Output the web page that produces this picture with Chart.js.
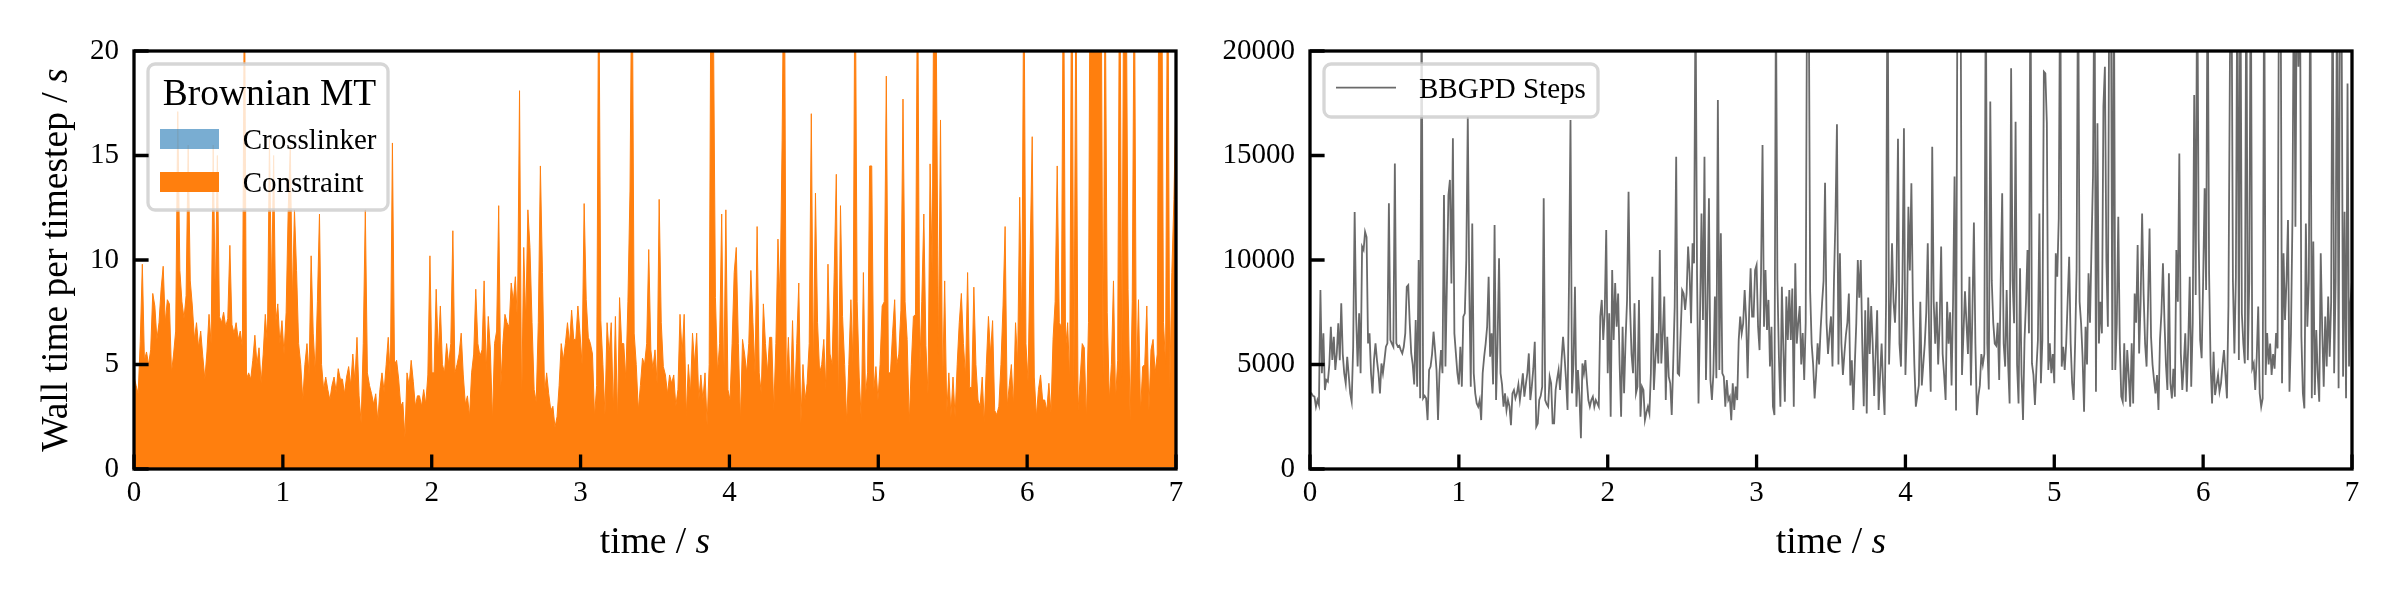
<!DOCTYPE html>
<html><head><meta charset="utf-8">
<script src="https://cdn.jsdelivr.net/npm/chart.js@4/dist/chart.umd.min.js"></script>
<style>
html,body{margin:0;padding:0;background:#fff;}
#wrap{position:relative;width:2400px;height:600px;background:#fff;}
.panel{position:absolute;top:0;width:1200px;height:600px;}
</style></head><body>
<div id="wrap">
<div class="panel" style="left:0"><canvas id="c1" width="1200" height="600"></canvas></div>
<div class="panel" style="left:1200px"><canvas id="c2" width="1200" height="600"></canvas></div>
</div>
<script>
// ---------------- data ----------------
const timeStepLeft = 0.014;   // s between samples (left panel)
const timeStepRight = 0.01;   // s between samples (right panel)
const crosslinkerStep = 0.5;  // s between crosslinker samples

const constraintTime = [
4.4,4.0,3.6,6.1,9.8,5.2,5.6,5.0,5.7,8.4,
7.8,6.2,7.0,8.6,9.7,7.0,8.1,7.9,4.6,5.5,
6.6,17.1,9.5,8.0,7.2,8.3,15.5,9.0,7.8,6.2,
7.0,5.8,6.6,5.4,4.3,5.6,7.4,6.0,15.5,8.0,
15.0,7.3,7.0,7.5,6.8,7.2,10.7,6.9,6.5,7.0,
6.2,6.6,5.8,24,4.3,4.6,4.3,5.2,6.4,5.0,
5.8,4.1,5.5,7.4,6.0,15.8,8.5,15.0,7.0,7.9,
6.0,7.1,5.5,7.5,12.4,15.5,8.0,12.4,9.5,6.0,
5.0,3.3,5.0,6.0,4.5,10.2,6.5,4.6,8.0,12.2,
5.0,3.8,4.4,3.8,3.3,4.0,4.4,3.7,4.8,4.3,
4.3,3.6,4.4,4.9,4.0,5.5,4.2,6.3,3.5,2.2,
6.0,12.4,4.6,4.0,3.6,3.1,3.6,2.3,3.8,4.6,
3.7,5.0,6.3,4.3,15.6,5.0,5.2,4.3,3.0,3.2,
1.5,4.6,4.0,5.2,4.2,3.0,3.5,3.5,3.0,3.8,
3.1,4.5,10.2,4.6,4.6,8.6,5.5,7.8,5.0,4.6,
6.0,5.0,6.0,11.4,4.6,5.0,5.5,6.5,4.5,3.1,
3.5,2.5,4.6,5.5,8.6,6.0,5.4,5.7,9.0,4.7,
7.3,5.7,2.3,6.0,6.6,12.6,3.9,6.0,7.4,7.0,
6.8,8.9,8.0,9.2,7.0,18.1,2.7,10.6,7.0,12.4,
10.6,7.0,3.8,3.2,7.0,14.5,9.4,3.6,4.6,3.6,
2.8,3.0,2.0,2.5,4.0,6.0,5.2,6.0,7.0,6.0,
7.6,6.2,6.2,7.8,6.5,5.0,12.7,8.1,6.3,6.0,
5.5,2.5,4.0,25,7.1,5.0,2.6,7.0,5.5,7.0,
2.7,7.3,2.3,8.2,6.0,6.0,4.3,8.0,13.3,26,
6.5,5.0,2.8,4.0,5.3,5.0,6.0,10.5,5.7,4.8,
5.7,4.1,12.9,7.0,4.9,4.5,3.6,4.5,4.1,4.5,
3.0,3.8,7.4,5.5,7.4,2.5,5.0,3.6,6.5,5.0,
6.5,3.3,4.5,3.3,4.6,2.1,5.0,28,22,8.2,
4.6,6.0,12.2,3.8,12.4,3.8,3.3,6.0,9.4,10.6,
6.0,2.3,6.2,5.5,4.6,6.0,9.5,7.0,4.6,11.6,
4.6,3.6,7.9,6.0,4.6,6.3,6.3,2.8,6.0,11.0,
8.0,15.7,27,3.8,6.3,3.3,7.1,3.3,6.0,8.9,
2.2,5.0,3.3,4.1,6.0,17.0,4.6,13.2,7.0,4.6,
5.0,6.2,3.8,9.8,5.5,5.0,9.4,14.1,3.0,12.6,
7.3,5.0,2.2,5.0,8.1,5.1,26,8.0,4.4,2.3,
9.4,3.5,4.6,14.5,14.5,3.8,4.9,3.3,5.0,7.8,
8.0,18.8,4.6,4.6,6.5,8.1,5.0,5.5,7.6,17.7,
8.0,6.2,2.2,5.0,7.3,7.4,25,4.6,8.0,12.2,
5.9,3.6,14.6,9.4,28,20.5,5.5,16.7,3.8,9.0,
2.7,4.6,2.5,4.4,2.5,5.0,7.0,8.4,6.0,4.4,
9.4,3.9,3.9,8.7,5.0,3.3,3.0,4.4,2.2,5.0,
7.3,5.5,7.1,2.8,2.6,3.0,5.0,7.8,11.6,3.0,
4.0,5.0,3.0,7.0,5.0,13.0,6.5,25,6.0,4.2,
10.3,15.9,4.4,2.5,3.8,4.5,3.3,3.3,2.8,4.1,
2.7,6.2,8.0,14.5,7.0,6.8,26,5.7,7.0,4.2,
27,3.8,24,2.8,4.3,6.0,5.8,2.3,7.0,30,
35,28,40,32,26,4.4,24,7.5,3.3,5.0,
9.0,3.3,5.2,27,4.4,26,26,8.6,2.3,8.0,
25,4.1,8.1,2.7,4.9,5.0,7.8,2.8,5.7,6.2,
4.6,5.5,30,28,7.0,5.0,27,3.8,9.4,12.9,
18
];

const crosslinkerTime = [0.06,0.05,0.05,0.04,0.05,0.04,0.05,0.05,0.06,0.05,0.05,0.06,0.07,0.07,0.08];

const bbgpdSteps = [
3600,3620,3500,3460,2980,3300,3060,8560,4580,6490,
3780,4260,4180,5000,6810,5220,6330,4740,5530,6970,
5210,7930,5500,4580,4100,5370,4500,3620,3220,5850,
12300,7290,4900,7450,4580,10640,10480,11350,11100,6010,
6490,4580,3620,5220,6010,5200,4580,3620,5050,4580,
5200,5850,6010,12710,6170,6000,5850,14620,6010,5850,
5900,5690,5530,5850,6490,8720,8800,6970,5530,5000,
4050,7130,3940,10000,3380,23000,3380,3500,3380,2340,
4740,4900,5500,6570,5690,4740,2340,4580,5690,4580,
13110,4900,9000,13110,13830,8880,15820,6490,5530,4580,
4050,5850,3940,7290,7450,10000,16860,8720,3940,11750,
4580,3620,3140,2980,3300,2340,4580,5370,6000,6810,
9200,5370,6490,4050,11680,3300,6000,10080,4580,4050,
2980,3620,2820,3300,3000,2100,3620,3780,3380,3620,
4050,3300,3900,4580,3460,4050,4580,5530,3300,3940,
4800,6090,2030,2180,3300,3500,3940,12950,3300,3100,
2980,4420,4100,2180,2180,3780,4300,4740,3780,5220,
6330,5370,4260,2820,9000,16700,3620,5050,8720,2980,
4740,3500,1470,5050,4580,5210,4200,3300,2980,3300,
3460,2980,3300,3140,2980,7290,8090,6170,7500,11440,
4580,7450,2500,9520,6170,8900,6810,8400,5000,2500,
6810,3620,6170,8090,13270,7770,5500,4580,7930,3620,
3940,8090,2500,3940,3780,2340,2700,2980,2660,4580,
9200,3780,5220,6490,5050,10480,5050,6490,8250,3300,
6330,4420,4100,2580,5050,7770,14940,4580,4500,6490,
8560,8400,7610,8400,10640,9360,6970,10800,9840,23000,
9360,3140,7290,12230,7130,14940,4260,7770,12950,4260,
3300,4580,8250,4340,17650,4740,11280,4580,4420,2980,
4260,3300,3460,2340,4100,2820,3940,3300,6170,7290,
6490,6970,8560,7130,4340,7450,9600,7290,7290,9520,
9760,6810,5690,9360,15500,6810,9520,6650,8090,4900,
6810,2980,2580,23000,9040,5370,2980,8720,5690,3220,
8250,6170,8560,6170,8640,2980,9840,6000,7000,7800,
5000,6500,4260,7000,25000,24000,8480,6000,5000,3380,
4500,6010,5000,6650,7930,9000,13700,7000,5500,6500,
7300,4900,9000,12000,16500,5000,10320,6000,4500,5500,
6400,7000,8400,4000,5200,2820,5000,7000,10000,8200,
10000,6000,3000,7600,2660,8200,5500,7800,6000,3500,
5500,7600,2820,4500,6000,4000,2580,8000,26000,5000,
7500,10800,8000,7000,9000,15800,6000,4900,9000,16300,
4500,7000,12550,9500,13670,8000,5000,2980,3500,4000,
8000,4000,5000,6000,7500,10800,6000,3700,15420,8000,
6000,8000,5000,7000,10640,5500,4500,3300,8000,6000,
7500,4000,8000,14000,2800,25000,24000,25000,4500,6500,
8500,7000,5500,9200,4000,7500,11790,6000,2580,3500,
4000,5500,5000,5500,24000,6000,3800,17580,9000,7000,
6000,5900,7000,4260,9000,13190,6000,4900,8560,5000,
3140,19170,9000,6970,16620,5000,3140,9600,4500,2340,
6170,8000,10480,6490,25000,5050,4500,3060,4800,6170,
12230,4100,6170,19010,18930,16540,4740,6010,4580,5500,
4100,10320,9200,12000,25000,4900,5850,4740,6000,8090,
10160,6000,4100,3300,6000,9520,25000,8000,6970,5370,
2740,6810,5000,9360,7000,10640,14000,25000,3700,16540,
6010,8000,6490,17340,19250,10000,6810,25000,25000,4740,
25000,4740,7000,12070,6000,3460,3220,6010,3220,5690,
4500,2980,6010,3140,8400,7000,10720,5530,8000,12230,
8400,6000,4900,8000,11510,6330,5000,4260,3620,4500,
2820,6170,7500,9840,7130,5000,3780,9360,4100,3380,
4800,3460,10480,8000,15100,5530,3780,5000,6490,3700,
6000,9200,3940,7000,17890,8330,25000,11000,6170,5300,
9000,13430,8560,25000,9360,5000,3140,5610,3540,4020,
4500,3700,4100,5000,5690,4500,3380,7850,19570,25000,
9000,5530,9200,25000,5210,25000,7450,6000,5050,25000,
5210,9000,25000,4820,5050,3780,5370,7770,3620,2980,
3380,25000,4500,6500,5000,6000,4500,5500,4800,6500,
5770,25000,25000,4100,10320,7130,9000,11910,3700,6490,
12000,25000,11590,25000,19250,25000,6330,3620,2900,11750,
6810,9000,25000,3380,10880,3540,6650,4500,3220,10320,
6650,3940,7290,4900,8250,5370,8000,25000,4580,9000,
25000,3860,25000,22000,4420,12310,3380,18450,4900,8000,
9000
];

const xTicks = [0, 1, 2, 3, 4, 5, 6, 7];
const yTicksLeft = [0, 5, 10, 15, 20];
const yTicksRight = [0, 5000, 10000, 15000, 20000];
const seriesLabels = ['Crosslinker', 'Constraint', 'BBGPD Steps'];
const legendTitleLeft = 'Brownian MT';
const xTitleParts = [{text: 'time / '}, {text: 's', italic: true}];
const yTitleLeftParts = [{text: 'Wall time per timestep / '}, {text: 's', italic: true}];

// ---------------- helpers ----------------
const SERIF = "'Liberation Serif', 'Times New Roman', serif";
Chart.defaults.font.family = SERIF;
Chart.defaults.color = '#000';

function toPoints(values, step) { return values.map((v, i) => ({x: i * step, y: v})); }

function roundRect(ctx, x, y, w, h, r) {
  ctx.beginPath();
  ctx.moveTo(x + r, y);
  ctx.arcTo(x + w, y, x + w, y + h, r);
  ctx.arcTo(x + w, y + h, x, y + h, r);
  ctx.arcTo(x, y + h, x, y, r);
  ctx.arcTo(x, y, x + w, y, r);
  ctx.closePath();
}

const boxLegend = {
  id: 'boxLegend',
  afterDatasetsDraw(chart, args, o) {
    if (!o || !o.box) return;
    const {ctx, chartArea: a} = chart;
    ctx.save();
    roundRect(ctx, a.left + o.box[0], a.top + o.box[1], o.box[2], o.box[3], 7);
    ctx.fillStyle = 'rgba(255,255,255,0.8)';
    ctx.fill();
    ctx.lineWidth = 3.3;
    ctx.strokeStyle = 'rgba(204,204,204,0.8)';
    ctx.stroke();
    ctx.textAlign = 'left';
    ctx.textBaseline = 'alphabetic';
    ctx.fillStyle = '#000';
    if (o.title) {
      ctx.font = o.titleSize + 'px ' + SERIF;
      ctx.fillText(o.title, a.left + o.titlePos[0], a.top + o.titlePos[1]);
    }
    chart.data.datasets.forEach((ds, k) => {
      const row = o.rows[k];
      if (!row) return;
      if (ds.fill) {
        ctx.fillStyle = ds.backgroundColor;
        ctx.fillRect(a.left + o.handleX, a.top + row.handleY, o.handleW, o.handleH);
      } else {
        ctx.strokeStyle = ds.borderColor;
        ctx.lineWidth = ds.borderWidth;
        ctx.beginPath();
        ctx.moveTo(a.left + o.handleX, a.top + row.handleY);
        ctx.lineTo(a.left + o.handleX + o.handleW, a.top + row.handleY);
        ctx.stroke();
      }
      ctx.fillStyle = '#000';
      ctx.font = o.textSize + 'px ' + SERIF;
      ctx.fillText(ds.label, a.left + o.textX, a.top + row.textY);
    });
    ctx.restore();
  }
};

const frameAndTicks = {
  id: 'frameAndTicks',
  afterDraw(chart) {
    const {ctx, chartArea: a, scales} = chart;
    const L = 14.6;
    ctx.save();
    ctx.strokeStyle = '#000';
    ctx.lineWidth = 3.3;
    ctx.beginPath();
    scales.x.ticks.forEach(t => {
      const px = scales.x.getPixelForValue(t.value);
      ctx.moveTo(px, a.bottom); ctx.lineTo(px, a.bottom - L);
    });
    scales.y.ticks.forEach(t => {
      const py = scales.y.getPixelForValue(t.value);
      ctx.moveTo(a.left, py); ctx.lineTo(a.left + L, py);
    });
    ctx.stroke();
    ctx.strokeRect(a.left, a.top, a.right - a.left, a.bottom - a.top);
    ctx.restore();
  }
};

const axisTitles = {
  id: 'axisTitles',
  afterDraw(chart, args, o) {
    if (!o || !o.size) return;
    const {ctx, chartArea: a} = chart;
    const size = o.size;
    const fontOf = p => (p.italic ? 'italic ' : '') + size + 'px ' + SERIF;
    const drawParts = (parts, cx, cy) => {
      const widths = parts.map(p => { ctx.font = fontOf(p); return ctx.measureText(p.text).width; });
      let x = cx - widths.reduce((s, w) => s + w, 0) / 2;
      parts.forEach((p, k) => { ctx.font = fontOf(p); ctx.fillText(p.text, x, cy); x += widths[k]; });
    };
    ctx.save();
    ctx.fillStyle = '#000';
    ctx.textAlign = 'left';
    ctx.textBaseline = 'alphabetic';
    if (o.x) drawParts(o.x, (a.left + a.right) / 2, o.xBaseline);
    if (o.y) {
      ctx.translate(o.yBaseline, (a.top + a.bottom) / 2);
      ctx.rotate(-Math.PI / 2);
      drawParts(o.y, 0, 0);
    }
    ctx.restore();
  }
};

function xScale() {
  return {
    type: 'linear', min: 0, max: 7,
    afterBuildTicks: s => { s.ticks = xTicks.map(v => ({value: v})); },
    afterFit: s => { s.height = 131; },
    grid: {display: false, drawTicks: false},
    border: {display: false},
    ticks: {font: {family: SERIF, size: 29}, color: '#000', padding: 7, maxRotation: 0, autoSkip: false,
            callback: v => String(v)}
  };
}
function yScale(ticksArr, maxV, width) {
  return {
    type: 'linear', min: 0, max: maxV,
    afterBuildTicks: s => { s.ticks = ticksArr.map(v => ({value: v})); },
    afterFit: s => { s.width = width; },
    grid: {display: false, drawTicks: false},
    border: {display: false},
    ticks: {font: {family: SERIF, size: 29}, color: '#000', padding: 15, autoSkip: false,
            callback: v => String(v)}
  };
}

// ---------------- left chart ----------------
new Chart(document.getElementById('c1'), {
  type: 'line',
  data: {
    datasets: [
      {label: seriesLabels[0], data: toPoints(crosslinkerTime, crosslinkerStep),
       backgroundColor: 'rgba(31,119,180,0.6)', borderColor: 'rgba(31,119,180,0.6)', borderWidth: 0,
       fill: 'origin', pointRadius: 0, tension: 0},
      {label: seriesLabels[1], data: toPoints(constraintTime, timeStepLeft),
       backgroundColor: '#ff7f0e', borderColor: '#ff7f0e', borderWidth: 1,
       fill: 'origin', pointRadius: 0, tension: 0}
    ]
  },
  options: {
    responsive: false, animation: false, devicePixelRatio: 1, parsing: false, normalized: true,
    events: [],
    layout: {padding: {top: 51, right: 24, bottom: 0, left: 0}},
    scales: {x: xScale(), y: yScale(yTicksLeft, 20, 134)},
    plugins: {
      legend: {display: false}, tooltip: {enabled: false},
      boxLegend: {
        box: [14, 13, 240, 146], title: legendTitleLeft, titleSize: 37.5, titlePos: [28.7, 54],
        handleX: 26, handleW: 59, handleH: 20, textX: 108.7, textSize: 29,
        rows: [{handleY: 78, textY: 98}, {handleY: 121, textY: 141.3}]
      },
      axisTitles: {size: 37.5, x: xTitleParts, xBaseline: 553, y: yTitleLeftParts, yBaseline: 67}
    }
  },
  plugins: [boxLegend, axisTitles, frameAndTicks]
});

// ---------------- right chart ----------------
new Chart(document.getElementById('c2'), {
  type: 'line',
  data: {
    datasets: [
      {label: seriesLabels[2], data: toPoints(bbgpdSteps, timeStepRight),
       borderColor: '#6a6a6a', borderWidth: 1.8, fill: false, pointRadius: 0, tension: 0}
    ]
  },
  options: {
    responsive: false, animation: false, devicePixelRatio: 1, parsing: false, normalized: true,
    events: [],
    layout: {padding: {top: 51, right: 48, bottom: 0, left: 0}},
    scales: {x: xScale(), y: yScale(yTicksRight, 20000, 110)},
    plugins: {
      legend: {display: false}, tooltip: {enabled: false},
      boxLegend: {
        box: [14, 13, 274, 53], handleX: 26, handleW: 60, textX: 109, textSize: 29,
        rows: [{handleY: 36.7, textY: 47}]
      },
      axisTitles: {size: 37.5, x: xTitleParts, xBaseline: 553}
    }
  },
  plugins: [boxLegend, axisTitles, frameAndTicks]
});
</script>
</body></html>
